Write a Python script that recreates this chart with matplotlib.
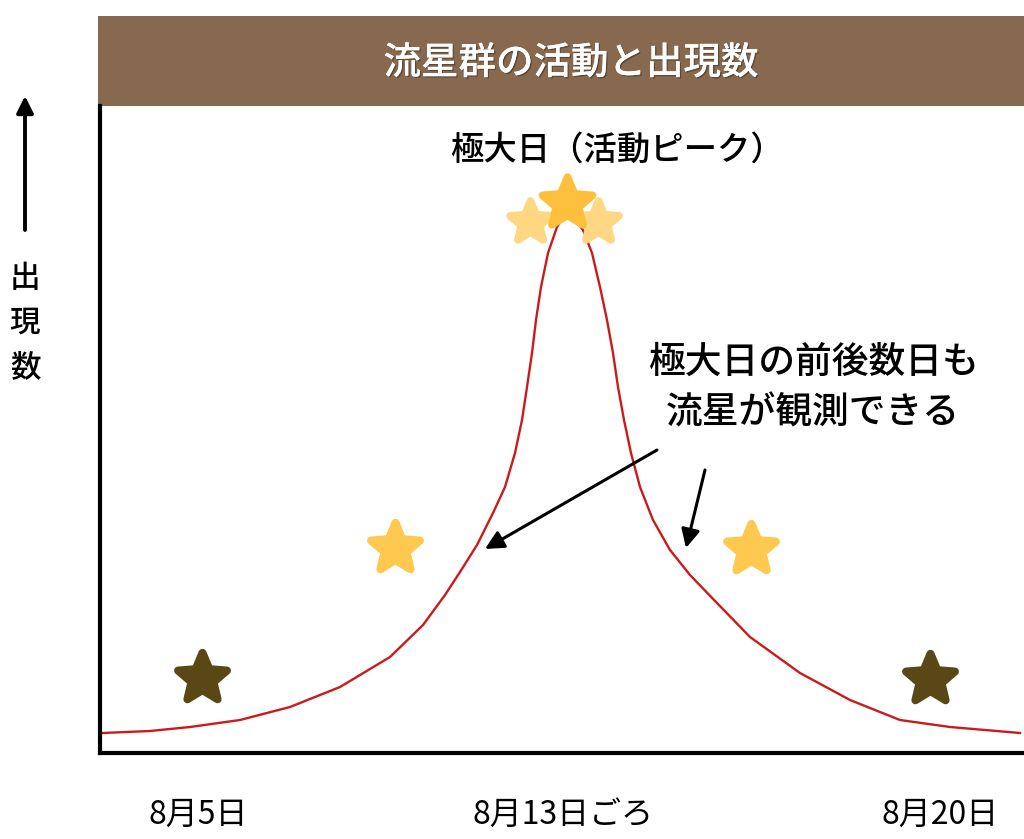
import matplotlib
matplotlib.use('Agg')
import numpy as np
import matplotlib.pyplot as plt
from matplotlib.path import Path
from matplotlib.markers import MarkerStyle
from matplotlib.patches import Rectangle, FancyArrowPatch
import matplotlib.patheffects as pe

plt.rcParams['font.family'] = ['Noto Sans CJK JP', 'DejaVu Sans']
plt.rcParams['font.weight'] = 'medium'

# 出現数カーブ（図から読み取った点、横=位置, 縦=出現数の相対値）
curve_x = [3, 50, 90, 140, 190, 240, 290, 323, 345, 360, 377, 393, 405, 415, 422, 427,
           432, 436, 441, 448, 457, 468, 483, 492, 500, 507, 513, 518, 524, 531, 540,
           553, 570, 590, 617, 650, 700, 750, 800, 850, 920]
curve_y = [20, 22, 26, 33, 46, 66, 96, 128, 158, 181, 208, 240, 266, 300, 333, 366,
           400, 433, 466, 500, 526, 543, 523, 500, 466, 433, 400, 366, 333, 300, 266,
           233, 203, 178, 150, 116, 80, 53, 33, 26, 20]

# 星の位置と色
star_x = [102, 295, 651, 830]
star_y = [75, 205, 204, 74]
star_colors = ['#5A4716', '#FFC84F', '#FFC84F', '#5A4716']
peak_x = [430, 498, 467]
peak_y = [531, 531, 550]
peak_colors = ['#FFD782', '#FFD782', '#FDC03C']
peak_sizes = [31, 31, 38]

tick_pos = [98, 463, 840]
tick_labels = ['8月5日', '8月13日ごろ', '8月20日']

title = '流星群の活動と出現数'
peak_label = '極大日（活動ピーク）'
note = '極大日の前後数日も\n流星が観測できる'
ylabel = '出\n現\n数'


def star_marker(inner=0.45):
    pts = []
    for i in range(10):
        ang = np.pi / 2 + i * np.pi / 5
        r = 1.0 if i % 2 == 0 else inner
        pts.append((r * np.cos(ang), r * np.sin(ang)))
    pts.append(pts[0])
    codes = [Path.MOVETO] + [Path.LINETO] * 9 + [Path.CLOSEPOLY]
    return MarkerStyle(Path(pts, codes), joinstyle='round')


W, H = 1024, 839
fig = plt.figure(figsize=(W / 100, H / 100), dpi=100)
ax = fig.add_axes([100 / W, (H - 753) / H, 922 / W, (753 - 106) / H])
ax.set_xlim(0, 922)
ax.set_ylim(0, 647)

for s in ['top', 'right']:
    ax.spines[s].set_visible(False)
for s in ['left', 'bottom']:
    ax.spines[s].set_linewidth(3)
    ax.spines[s].set_color('black')
ax.set_yticks([])
ax.set_xticks(tick_pos)
ax.set_xticklabels(tick_labels, fontsize=23, fontweight='normal')
ax.tick_params(axis='x', length=0, pad=33)

ax.plot(curve_x, curve_y, color='#CC1A1A', lw=1.7, zorder=2, solid_joinstyle='round')

mk = star_marker()
for x, y, c in zip(star_x, star_y, star_colors):
    ax.plot(x, y, marker=mk, ms=37, mfc=c, mec=c, mew=5.8, zorder=4, clip_on=False)
for x, y, c, s in zip(peak_x, peak_y, peak_colors, peak_sizes):
    ax.plot(x, y, marker=mk, ms=s, mfc=c, mec=c, mew=5.5, zorder=4, clip_on=False)

# 矢印
ax.annotate('', xy=(385, 204), xytext=(557, 303),
            arrowprops=dict(arrowstyle='-|>', color='black', lw=2.2, mutation_scale=28,
                            shrinkA=0, shrinkB=0))
ax.annotate('', xy=(586, 205), xytext=(605, 283),
            arrowprops=dict(arrowstyle='-|>', color='black', lw=2.2, mutation_scale=28,
                            shrinkA=0, shrinkB=0))

ax.text(517, 603, peak_label, fontsize=24, ha='center', va='center', clip_on=False)
ax.text(713, 366, note, fontsize=26.5, ha='center', va='center', linespacing=1.4)

# タイトル帯
fig.add_artist(Rectangle((98 / W, 1 - 106 / H), (W - 98) / W, 90 / H,
                         transform=fig.transFigure, color='#87694F', lw=0, zorder=0))
fig.text(571 / W, 1 - 63 / H, title, color='white', fontsize=27, ha='center', va='center',
         path_effects=[pe.withSimplePatchShadow(offset=(1, -1), shadow_rgbFace='black', alpha=0.3),
                       pe.Normal()])

# 縦軸ラベルと矢印
fig.text(25 / W, 1 - 323 / H, ylabel, fontsize=22, ha='center', va='center', linespacing=1.55)
fig.add_artist(FancyArrowPatch((25 / W, 1 - 230 / H), (25 / W, 1 - 96 / H),
                               transform=fig.transFigure, arrowstyle='-|>', color='black',
                               lw=2.8, mutation_scale=25, shrinkA=0, shrinkB=0))

fig.savefig('out.png', dpi=100, facecolor='white')
